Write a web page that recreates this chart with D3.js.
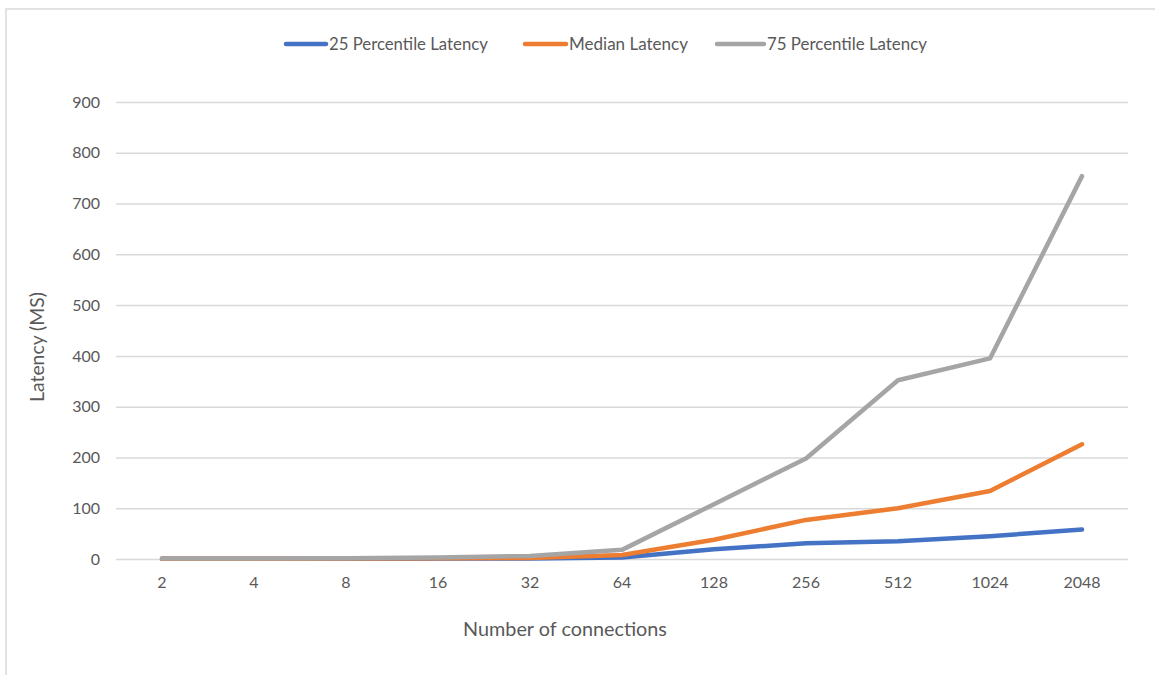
<!DOCTYPE html>
<html>
<head>
<meta charset="utf-8">
<script src="https://cdn.jsdelivr.net/npm/d3@7"></script>
<style>
  html, body { margin: 0; padding: 0; background: #fff; }
  svg { display: block; }
  text { font-family: Lato, "Open Sans", "Liberation Sans", sans-serif; fill: #595959; }
</style>
</head>
<body>
<svg id="chart" width="1155" height="675"></svg>
<script>
// Connection counts on the x axis
const connections = ["2", "4", "8", "16", "32", "64", "128", "256", "512", "1024", "2048"];

// Latency (ms) per connection count
const p25Latency = [0.3, 0.5, 0.6, 0.8, 1, 3, 19, 31, 35, 45, 58];
const medianLatency = [0.5, 0.7, 1, 1.5, 2, 8, 38, 77, 100, 134, 226];
const p75Latency = [0.8, 1, 1.5, 3, 6, 18, 108, 198, 352, 395, 754];

const yTicks = [0, 100, 200, 300, 400, 500, 600, 700, 800, 900];

const seriesNames = ["25 Percentile Latency", "Median Latency", "75 Percentile Latency"];
const seriesColors = ["#4472c4", "#ed7d31", "#a5a5a5"];
const seriesValues = [p25Latency, medianLatency, p75Latency];

const svg = d3.select("#chart");

// Scale a text's font size so the rendered string spans the given width
function fitWidth(sel, width) {
  const node = sel.node();
  const base = parseFloat(sel.attr("font-size"));
  const w = node.getComputedTextLength();
  if (w > 0) sel.attr("font-size", (base * width / w).toFixed(2));
  return sel;
}

// Outer chart-area frame
svg.append("rect")
  .attr("x", 6).attr("y", 9)
  .attr("width", 1160).attr("height", 680)
  .attr("fill", "none").attr("stroke", "#d9d9d9").attr("stroke-width", 1.5);

const plot = { left: 116, right: 1128, top: 102, bottom: 559 };

const x = d3.scaleBand().domain(connections).range([plot.left, plot.right]);
const y = d3.scaleLinear().domain([0, 900]).range([plot.bottom, plot.top]);

// Horizontal gridlines
svg.append("g")
  .attr("transform", `translate(${plot.left},0)`)
  .call(d3.axisLeft(y).tickValues(yTicks).tickSize(-(plot.right - plot.left)).tickFormat(""))
  .call(g => g.select(".domain").remove())
  .call(g => g.selectAll(".tick line").attr("stroke", "#d9d9d9").attr("stroke-width", 1.5));

// Y tick labels
svg.append("g")
  .attr("transform", `translate(${plot.left - 16},0)`)
  .call(d3.axisLeft(y).tickValues(yTicks).tickSize(0).tickPadding(0))
  .call(g => g.select(".domain").remove())
  .call(g => g.selectAll("text").attr("font-size", 16).style("fill", "#595959")
    .style("font-family", "Lato, 'Open Sans', sans-serif"));

// X tick labels
svg.append("g")
  .attr("transform", `translate(0,${plot.bottom + 14})`)
  .call(d3.axisBottom(x).tickSize(0).tickPadding(4))
  .call(g => g.select(".domain").remove())
  .call(g => g.selectAll("text").attr("font-size", 16).style("fill", "#595959")
    .style("font-family", "Lato, 'Open Sans', sans-serif"));

// Axis titles
const xTitle = svg.append("text")
  .attr("x", 565).attr("y", 636)
  .attr("text-anchor", "middle").attr("font-size", 18)
  .text("Number of connections");
fitWidth(xTitle, 204);

const yTitle = svg.append("text")
  .attr("transform", "translate(44,347) rotate(-90)")
  .attr("text-anchor", "middle").attr("font-size", 18)
  .text("Latency (MS)");
fitWidth(yTitle, 110);

// Series lines
const line = d3.line()
  .x((d, i) => x(connections[i]) + x.bandwidth() / 2)
  .y(d => y(d));

seriesValues.forEach((vals, k) => {
  svg.append("path")
    .datum(vals)
    .attr("d", line)
    .attr("fill", "none")
    .attr("stroke", seriesColors[k])
    .attr("stroke-width", 4.5)
    .attr("stroke-linejoin", "round")
    .attr("stroke-linecap", "round");
});

// Legend
const legendItems = [
  { x: 286, textX: 329, width: 159 },
  { x: 525, textX: 569, width: 119 },
  { x: 717, textX: 767, width: 160 }
];
seriesNames.forEach((name, k) => {
  const g = svg.append("g");
  g.append("line")
    .attr("x1", legendItems[k].x).attr("x2", legendItems[k].textX - 3)
    .attr("y1", 44).attr("y2", 44)
    .attr("stroke", seriesColors[k]).attr("stroke-width", 4.5)
    .attr("stroke-linecap", "round");
  const t = g.append("text")
    .attr("x", legendItems[k].textX).attr("y", 50)
    .attr("font-size", 16)
    .text(name);
  fitWidth(t, legendItems[k].width);
});
</script>
</body>
</html>
